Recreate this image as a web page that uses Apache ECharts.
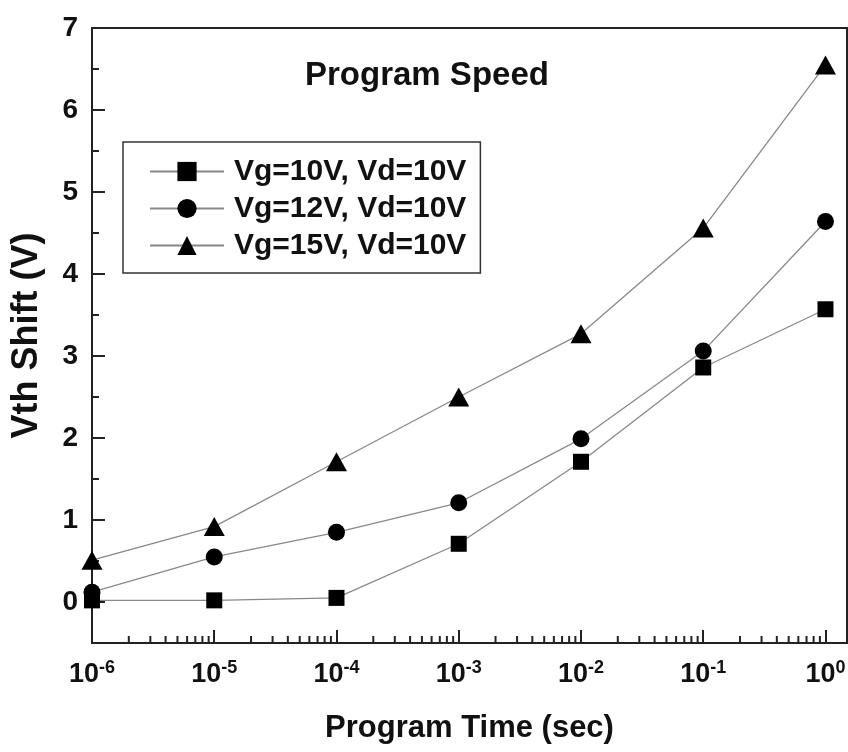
<!DOCTYPE html>
<html lang="en">
<head>
    <meta charset="UTF-8">
    <title>Program Speed</title>
    <script src="https://cdn.jsdelivr.net/npm/echarts@6/dist/echarts.min.js"></script>
    <style>
        html, body { margin: 0; padding: 0; background: #fff; }
        #main { width: 848px; height: 752px; }
    </style>
</head>
<body>
<div id="main"></div>
<script>
    // program time (sec)
    var timeData = [1e-6, 1e-5, 1e-4, 1e-3, 1e-2, 1e-1, 1];
    // Vth shift (V)
    var vg10Data = [0.02, 0.02, 0.05, 0.71, 1.71, 2.86, 3.57];
    var vg12Data = [0.12, 0.55, 0.85, 1.21, 1.99, 3.06, 4.64];
    var vg15Data = [0.51, 0.92, 1.71, 2.50, 3.27, 4.56, 6.55];
    var seriesNames = ['Vg=10V, Vd=10V', 'Vg=12V, Vd=10V', 'Vg=15V, Vd=10V'];
    var yTicks = [0, 1, 2, 3, 4, 5, 6, 7];

    var font = "'Liberation Sans', Arial, sans-serif";

    function pairs(ys) {
        var out = [];
        for (var i = 0; i < timeData.length; i++) {
            out.push([timeData[i], ys[i]]);
        }
        return out;
    }

    // log minor ticks 2..9 in every decade below 10^0
    var minorX = [];
    for (var n = -6; n < 0; n++) {
        for (var k = 2; k <= 9; k++) {
            minorX.push([k * Math.pow(10, n), -0.5]);
        }
    }

    function lineSeries(name, ys, symbol, size) {
        return {
            name: name,
            type: 'line',
            data: pairs(ys),
            symbol: symbol,
            symbolSize: size,
            clip: false,
            z: 3,
            itemStyle: { color: '#000' },
            lineStyle: { color: '#888', width: 1.3 },
            emphasis: { disabled: true }
        };
    }

    var myChart = echarts.init(document.getElementById('main'));

    var option = {
        animation: false,
        backgroundColor: '#fff',
        title: {
            text: 'Program Speed',
            left: 300,
            top: 54,
            textStyle: { fontFamily: font, fontSize: 33, fontWeight: 'bold', color: '#111' }
        },
        legend: {
            orient: 'vertical',
            left: 123,
            top: 142,
            padding: [14, 14, 12, 26],
            borderColor: '#333',
            borderWidth: 1.5,
            itemWidth: 74,
            itemHeight: 24,
            itemGap: 6,
            data: seriesNames,
            textStyle: { fontFamily: font, fontSize: 30, fontWeight: 'bold', color: '#111', lineHeight: 31, padding: [0, 0, 0, 5] }
        },
        grid: {
            left: 92,
            right: 1,
            top: 28,
            bottom: 109,
            containLabel: false,
            outerBoundsMode: 'none',
            show: true,
            borderColor: '#222',
            borderWidth: 2
        },
        xAxis: {
            type: 'log',
            logBase: 10,
            min: 1e-6,
            max: 1.5,
            splitNumber: 7,
            name: 'Program Time (sec)',
            nameLocation: 'middle',
            nameGap: 70,
            nameTextStyle: { fontFamily: font, fontSize: 31, fontWeight: 'bold', color: '#111' },
            axisLine: { onZero: false, lineStyle: { color: '#222', width: 2 } },
            axisTick: { inside: true, length: 13, lineStyle: { color: '#222', width: 2 } },
            splitLine: { show: false },
            axisLabel: {
                margin: 16,
                showMaxLabel: false,
                formatter: function (v) {
                    var e = Math.round(Math.log(v) / Math.LN10);
                    return '{b|10}{s|' + e + '}';
                },
                rich: {
                    b: { fontFamily: font, fontSize: 27, fontWeight: 'bold', color: '#111' },
                    s: { fontFamily: font, fontSize: 18, fontWeight: 'bold', color: '#111', padding: [0, 0, 14, 0] }
                }
            }
        },
        yAxis: {
            type: 'value',
            min: -0.5,
            max: 7,
            minInterval: 1,
            maxInterval: 1,
            name: 'Vth Shift (V)',
            nameLocation: 'middle',
            nameGap: 47,
            nameTextStyle: { fontFamily: font, fontSize: 36, fontWeight: 'bold', color: '#111' },
            axisLine: { onZero: false, lineStyle: { color: '#222', width: 2 } },
            axisTick: { inside: true, length: 13, lineStyle: { color: '#222', width: 2 } },
            minorTick: { show: true, splitNumber: 2, length: 7, lineStyle: { color: '#222', width: 2 } },
            splitLine: { show: false },
            axisLabel: {
                margin: 14,
                fontFamily: font,
                fontSize: 28,
                fontWeight: 'bold',
                color: '#111',
                formatter: function (v) {
                    return yTicks.indexOf(v) >= 0 ? String(v) : '';
                }
            }
        },
        series: [
            lineSeries(seriesNames[0], vg10Data, 'rect', 16),
            lineSeries(seriesNames[1], vg12Data, 'circle', 17),
            lineSeries(seriesNames[2], vg15Data, 'triangle', [21, 19]),
            {
                type: 'custom',
                silent: true,
                clip: false,
                z: 4,
                data: minorX,
                renderItem: function (params, api) {
                    var p = api.coord([api.value(0), api.value(1)]);
                    return {
                        type: 'line',
                        shape: { x1: p[0], y1: p[1], x2: p[0], y2: p[1] - 7 },
                        style: { stroke: '#222', lineWidth: 2 }
                    };
                }
            }
        ]
    };

    myChart.setOption(option);
</script>
</body>
</html>
